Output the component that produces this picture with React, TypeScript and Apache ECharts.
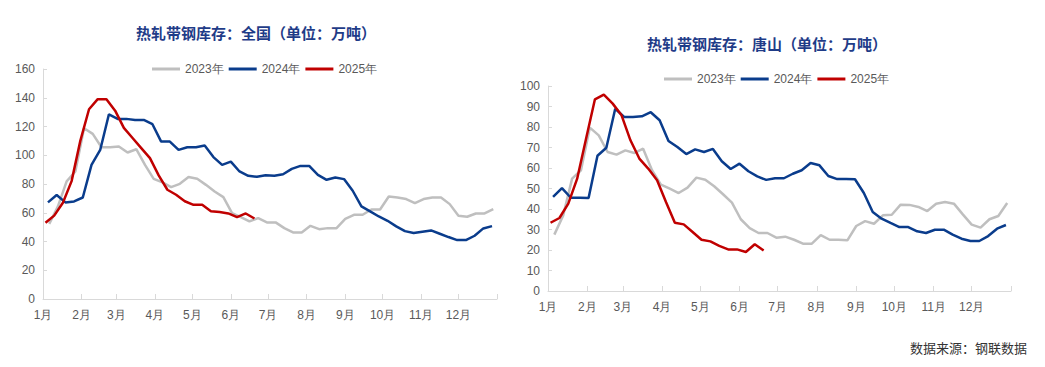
import React, { useEffect, useRef } from "react";
import * as echarts from "echarts";

const monthLabels = ["1月", "2月", "3月", "4月", "5月", "6月", "7月", "8月", "9月", "10月", "11月", "12月"];
const monthStarts = [0, 31, 59, 90, 120, 151, 181, 212, 243, 273, 304, 334];
const yearEnd = 365;

const seriesNames = ["2023年", "2024年", "2025年"];
const firstReportDates = ["2023-01-06", "2024-01-05", "2025-01-03"];

// 全国 (万吨), weekly
const national2023 = [52.3, 64.4, 81.8, 88.7, 118.8, 114.9, 105.6, 105.6, 106.1, 101.9, 104.2, 93.3, 83.6, 81.1, 77.8, 80.1, 84.8, 83.6, 79.4, 74.8, 70.9, 59.7, 57, 54, 56.3, 53.3, 53.3, 49.3, 46.3, 46.3, 50.9, 48.6, 49.3, 49.3, 55.8, 58.6, 58.6, 62.3, 62.3, 71.3, 70.6, 69.5, 66.7, 69.5, 70.6, 70.6, 66, 57.9, 57.2, 59.5, 59.5, 62.5];
const national2024 = [67.2, 72.3, 67.2, 67.9, 70.6, 93.3, 103.7, 128.5, 125.3, 125.3, 124.6, 124.6, 121.6, 109.5, 109.5, 103.7, 105.6, 105.6, 106.8, 98.7, 93.3, 95.6, 88.7, 85.7, 85.0, 86.1, 85.7, 86.8, 90.5, 92.6, 92.6, 86.4, 82.9, 84.5, 83.4, 75.3, 64.4, 60.9, 57.4, 54.4, 50.5, 47.2, 45.9, 46.8, 47.7, 45.4, 43.1, 41, 41, 44, 49.1, 50.7];
const national2025 = [53, 58, 67, 82, 110, 132, 139, 139, 131, 119, 112, 105, 98, 86, 76, 72.5, 68, 65.5, 65.5, 61, 60.5, 59.5, 57, 59.5, 56];

// 唐山 (万吨), weekly
const tangshan2023 = [27.5, 36.9, 54.8, 58.9, 79.7, 75.9, 67.8, 66.5, 68.6, 67.3, 69.4, 58.9, 51.9, 49.9, 47.8, 50.4, 55.3, 54.3, 51.1, 47.2, 43.1, 35, 30.7, 28.3, 28.3, 26, 26.5, 25, 23.1, 23.1, 27.3, 25, 25, 24.7, 31.7, 34.1, 32.8, 36.9, 37.2, 42.1, 42, 41, 39, 42.6, 43.4, 42.6, 37.4, 32.4, 30.9, 35, 36.6, 42.9];
const tangshan2024 = [45.9, 50.2, 45.5, 45.5, 45.4, 66, 69.9, 88.9, 84.9, 84.9, 85.2, 87.2, 83.3, 73.2, 70.2, 66.8, 69.1, 67.8, 69.3, 63.3, 59.5, 62.1, 58.4, 55.9, 54.2, 55, 55, 57.2, 58.9, 62.4, 61.3, 56.1, 54.6, 54.6, 54.5, 47.8, 38.5, 35.3, 33.2, 31.2, 31.2, 29.1, 28.3, 29.9, 29.9, 27.5, 25.5, 24.4, 24.4, 26.8, 30.4, 32.2];
const tangshan2025 = [33.3, 35.6, 42.6, 54.8, 74.3, 93.5, 95.8, 91.4, 85.7, 73.5, 64.6, 59.7, 54, 43.4, 33.3, 32.5, 28.8, 25, 24.2, 22, 20.3, 20.3, 19, 22.8, 19.8];

const titleNational = "热轧带钢库存：全国（单位：万吨）";
const titleTangshan = "热轧带钢库存：唐山（单位：万吨）";
const sourceText = "数据来源：钢联数据";

const colors = ["#BFBFBF", "#0A3C8C", "#C00000"];

function dayIndex(date: string): number {
  const [y, m, d] = date.split("-").map(Number);
  return (Date.UTC(y, m - 1, d) - Date.UTC(y, 0, 1)) / 86400000;
}

function toPoints(values: number[], startDate: string): [number, number][] {
  const s = dayIndex(startDate);
  return values.map((v, k) => [s + 7 * k, v]);
}

export default function App() {
  const ref = useRef<HTMLDivElement>(null);

  useEffect(() => {
    if (!ref.current) return;
    const chart = echarts.init(ref.current, undefined, { renderer: "svg" });
    const axisColor = "#D9D9D9";
    const labelColor = "#595959";

    const makeX = (gridIndex: number) => ({
      type: "value",
      gridIndex,
      min: 0,
      max: yearEnd,
      axisLine: { show: true, lineStyle: { color: axisColor, width: 1 } },
      axisTick: {
        show: true,
        inside: true,
        length: 5,
        customValues: [...monthStarts, yearEnd],
        lineStyle: { color: axisColor },
      },
      axisLabel: {
        customValues: monthStarts,
        color: labelColor,
        fontSize: 12,
        margin: 10,
        formatter: (v: number) => {
          const i = monthStarts.indexOf(Math.round(v));
          return i >= 0 ? monthLabels[i] : "";
        },
      },
      splitLine: { show: false },
    });

    const makeY = (gridIndex: number, max: number, interval: number) => ({
      type: "value",
      gridIndex,
      min: 0,
      max,
      interval,
      axisLine: { show: true, lineStyle: { color: axisColor, width: 1 } },
      axisTick: { show: true, inside: true, length: 4, lineStyle: { color: axisColor } },
      axisLabel: { color: labelColor, fontSize: 12, margin: 8 },
      splitLine: { show: false },
    });

    const mkSeries = (name: string, idx: number, data: [number, number][], axisIndex: number) => ({
      name,
      type: "line",
      xAxisIndex: axisIndex,
      yAxisIndex: axisIndex,
      data,
      symbol: "none",
      smooth: false,
      lineStyle: { color: colors[idx], width: 2.5 },
      itemStyle: { color: colors[idx] },
    });

    const legendBase = {
      data: seriesNames,
      icon: "rect",
      itemWidth: 28,
      itemHeight: 3,
      itemGap: 5,
      textStyle: { color: labelColor, fontSize: 12 },
    };

    chart.setOption({
      animation: false,
      backgroundColor: "#ffffff",
      grid: [
        { left: 43, top: 69, width: 454, height: 230, containLabel: false, outerBoundsMode: "none" },
        { left: 548, top: 86, width: 463, height: 205, containLabel: false, outerBoundsMode: "none" },
      ],
      legend: [
        { ...legendBase, left: 147, top: 58 },
        { ...legendBase, left: 659, top: 68 },
      ],
      xAxis: [makeX(0), makeX(1)],
      yAxis: [makeY(0, 160, 20), makeY(1, 100, 10)],
      series: [
        mkSeries(seriesNames[0], 0, toPoints(national2023, firstReportDates[0]), 0),
        mkSeries(seriesNames[1], 1, toPoints(national2024, firstReportDates[1]), 0),
        mkSeries(seriesNames[2], 2, toPoints(national2025, firstReportDates[2]), 0),
        mkSeries(seriesNames[0], 0, toPoints(tangshan2023, firstReportDates[0]), 1),
        mkSeries(seriesNames[1], 1, toPoints(tangshan2024, firstReportDates[1]), 1),
        mkSeries(seriesNames[2], 2, toPoints(tangshan2025, firstReportDates[2]), 1),
      ],
      graphic: [
        {
          type: "text",
          x: 256,
          y: 32,
          style: {
            text: titleNational,
            fill: "#1F3C88",
            font: 'bold 15px "Noto Sans CJK SC"',
            textAlign: "center",
            textVerticalAlign: "middle",
          },
        },
        {
          type: "text",
          x: 767,
          y: 43,
          style: {
            text: titleTangshan,
            fill: "#1F3C88",
            font: 'bold 15px "Noto Sans CJK SC"',
            textAlign: "center",
            textVerticalAlign: "middle",
          },
        },
        {
          type: "text",
          x: 1027,
          y: 347,
          style: {
            text: sourceText,
            fill: "#333333",
            font: '13px "Noto Sans CJK SC"',
            textAlign: "right",
            textVerticalAlign: "middle",
          },
        },
      ],
    });

    return () => chart.dispose();
  }, []);

  return (
    <div
      ref={ref}
      style={{ position: "absolute", left: 0, top: 0, width: 1045, height: 367 }}
    />
  );
}
